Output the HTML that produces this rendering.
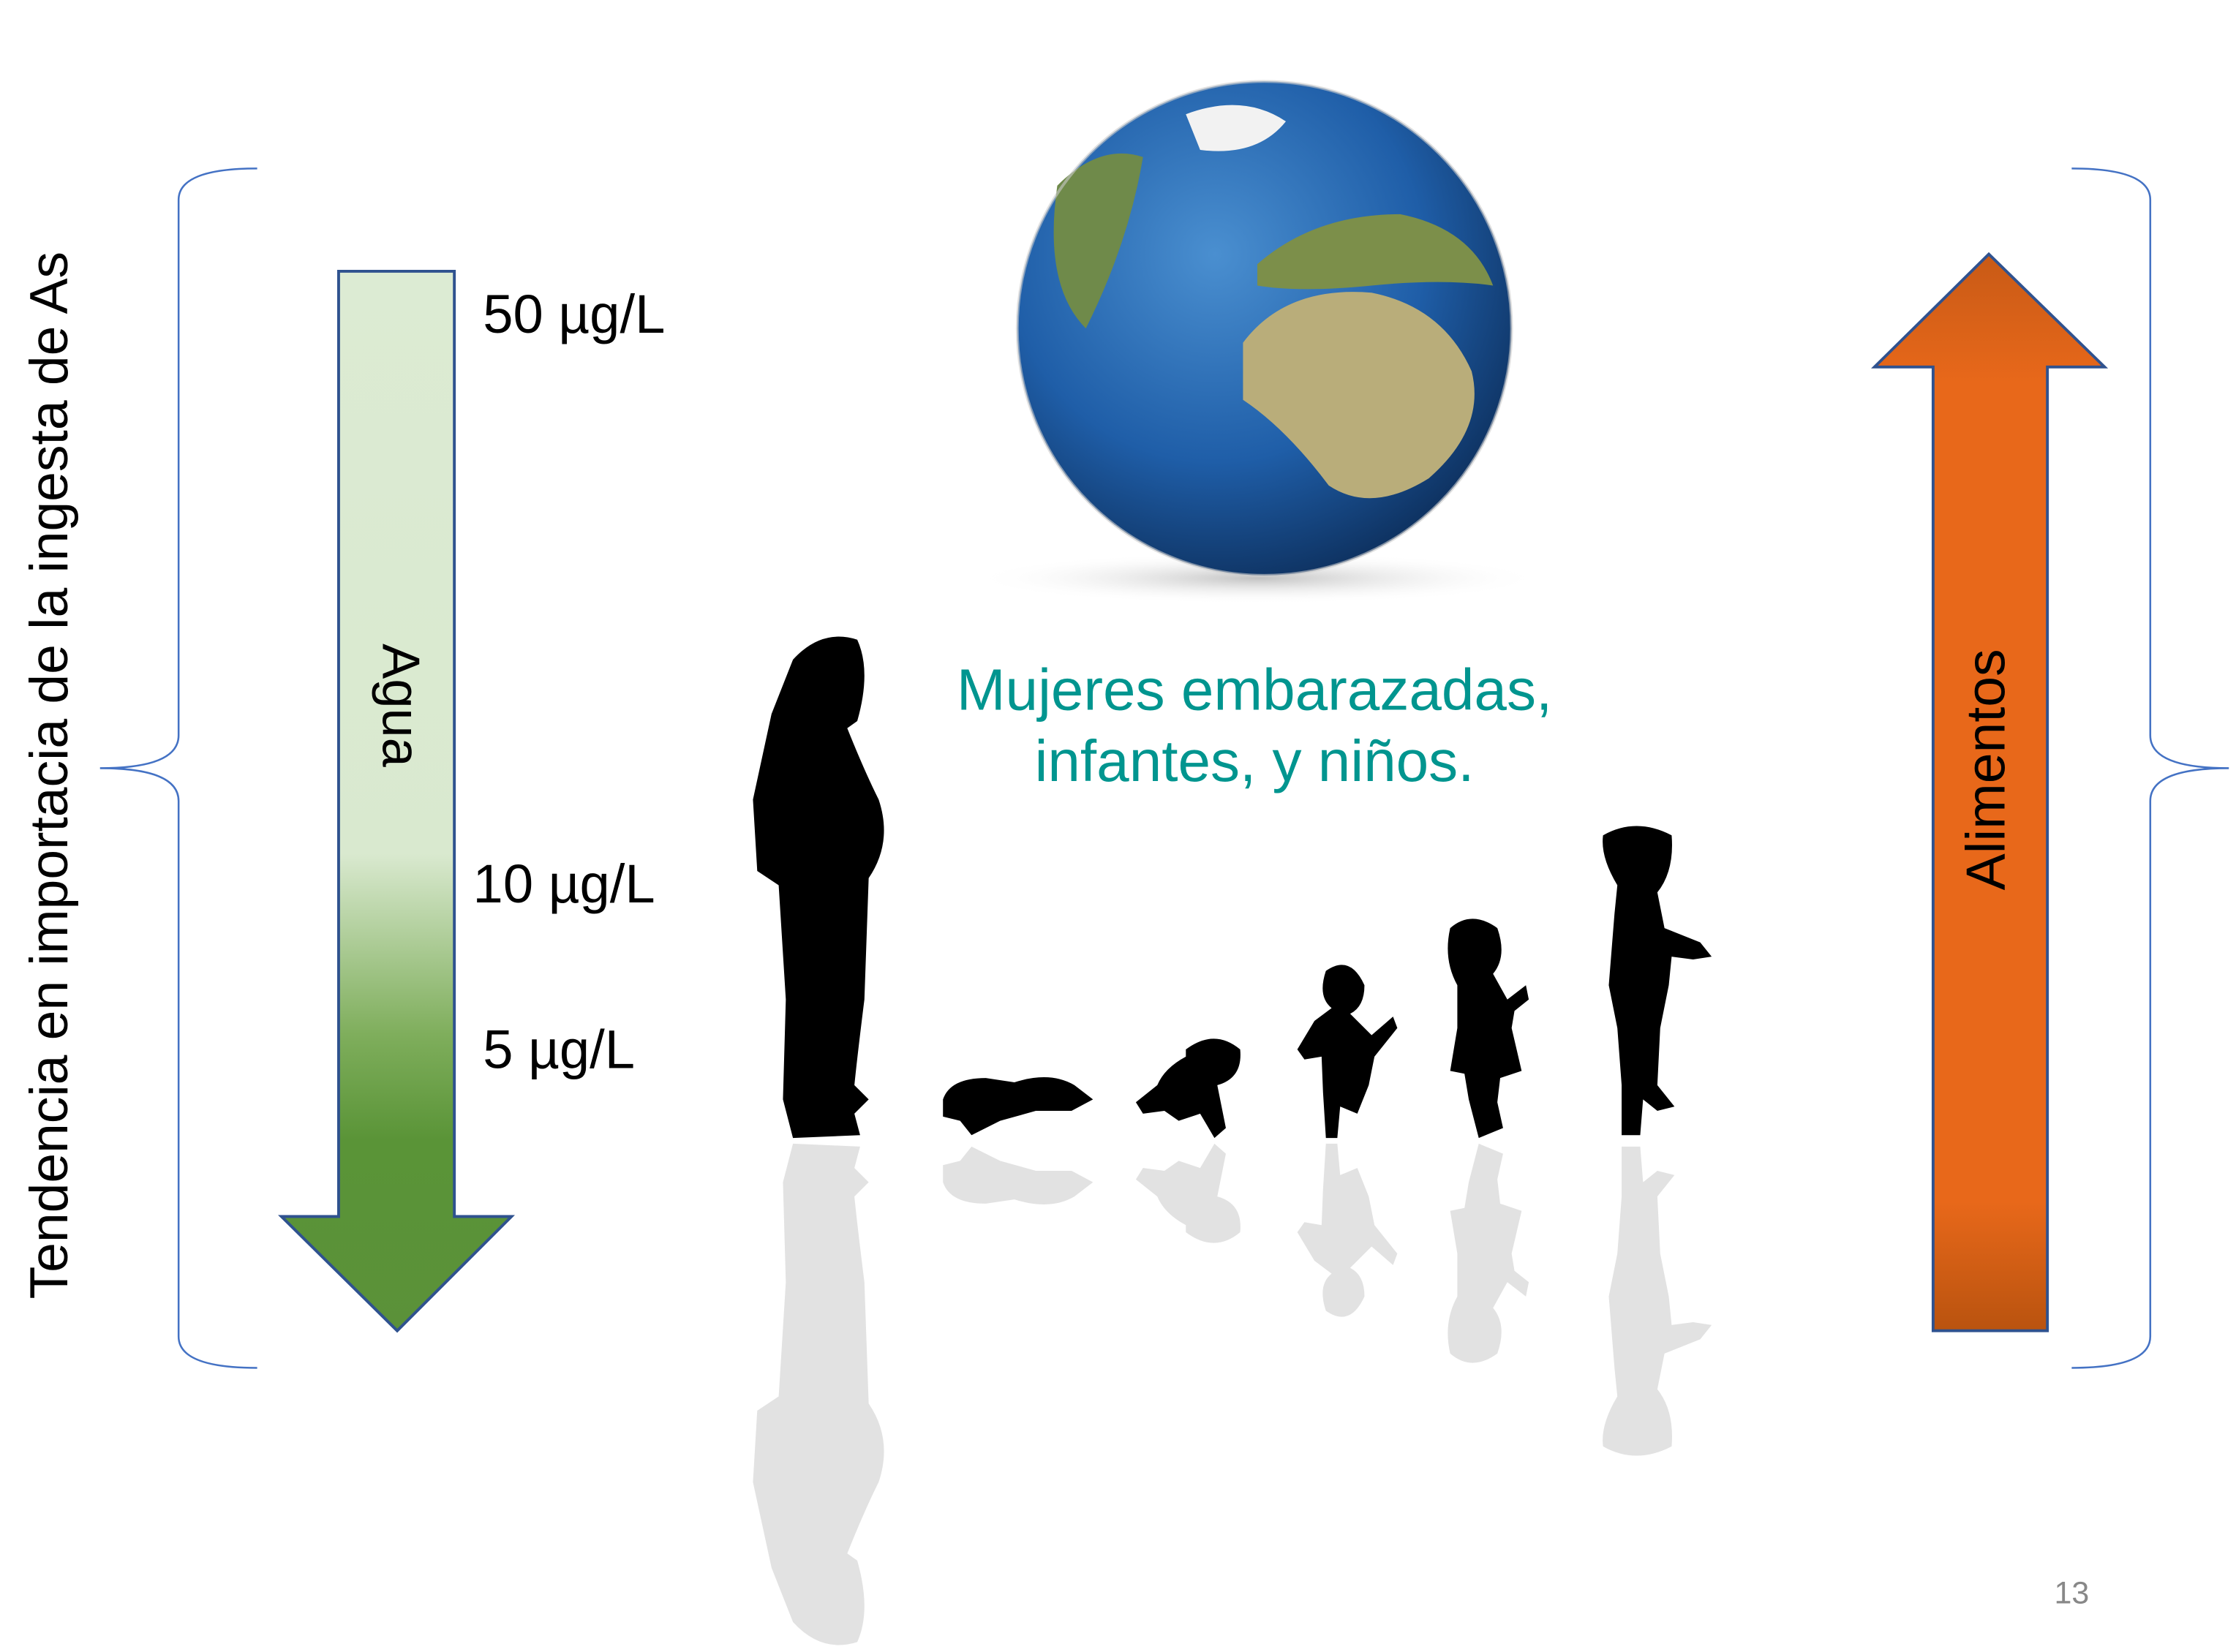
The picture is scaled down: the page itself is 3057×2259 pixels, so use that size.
<!DOCTYPE html>
<html><head><meta charset="utf-8"><style>
html,body{margin:0;padding:0;background:#fff;}
svg{display:block;}
text{font-family:"Liberation Sans",sans-serif;}
</style></head><body>
<svg width="3057" height="2259" viewBox="0 0 1565 1157" preserveAspectRatio="none" xmlns="http://www.w3.org/2000/svg">
<defs>
<linearGradient id="gG" x1="0" y1="0" x2="0" y2="1">
<stop offset="0" stop-color="#dcebd3"/><stop offset="0.55" stop-color="#d9e9cf"/><stop offset="0.72" stop-color="#7fae5c"/><stop offset="0.82" stop-color="#5a9437"/><stop offset="1" stop-color="#5b9139"/>
</linearGradient>
<linearGradient id="gO" x1="0" y1="0" x2="0" y2="1">
<stop offset="0" stop-color="#c85a16"/><stop offset="0.12" stop-color="#e8681a"/><stop offset="0.88" stop-color="#e8681a"/><stop offset="1" stop-color="#b9530f"/>
</linearGradient>
<radialGradient id="gGlobe" cx="0.4" cy="0.35" r="0.7">
<stop offset="0" stop-color="#4a8fd0"/><stop offset="0.6" stop-color="#1f5ea8"/><stop offset="1" stop-color="#0d2f5c"/>
</radialGradient>
<radialGradient id="gShadow" cx="0.5" cy="0.5" r="0.5">
<stop offset="0" stop-color="#999" stop-opacity="0.6"/><stop offset="1" stop-color="#fff" stop-opacity="0"/>
</radialGradient>
</defs>

<path d="M180,118 Q125,118 125,140 L125,515 Q125,538 70,538 Q125,538 125,561 L125,936 Q125,958 180,958" fill="none" stroke="#4472c4" stroke-width="1.3"/>
<text transform="translate(47,543) rotate(-90)" text-anchor="middle" font-size="37.5">Tendencia en importacia de la ingesta de As</text>

<path d="M237,190 L318,190 L318,852 L358,852 L278,932 L197,852 L237,852 Z" fill="url(#gG)" stroke="#2f528f" stroke-width="2"/>
<text transform="translate(268,494) rotate(90)" text-anchor="middle" font-size="37">Agua</text>
<text x="338" y="233" font-size="38">50 µg/L</text>
<text x="331" y="632" font-size="38">10 µg/L</text>
<text x="338" y="748" font-size="38">5 µg/L</text>

<g>
<ellipse cx="880" cy="405" rx="200" ry="18" fill="url(#gShadow)"/>
<circle cx="885" cy="230" r="173" fill="url(#gGlobe)"/>
<path d="M870,240 Q900,200 960,205 Q1010,215 1030,260 Q1040,300 1000,335 Q960,360 930,340 Q900,300 870,280 Z" fill="#b9ad7a"/>
<path d="M880,185 Q920,150 980,150 Q1030,160 1045,200 Q1010,195 960,200 Q910,205 880,200 Z" fill="#7c8f4a"/>
<path d="M740,130 Q770,100 800,110 Q790,170 760,230 Q730,200 740,130 Z" fill="#6f8a4a"/>
<path d="M830,80 Q870,65 900,85 Q880,110 840,105 Z" fill="#f2f2f2"/>
<circle cx="885" cy="230" r="173" fill="none" stroke="#ccc" stroke-width="2" opacity="0.6"/>
</g>

<text x="878" y="497" text-anchor="middle" font-size="41" fill="#00958f">Mujeres embarazadas,</text>
<text x="878" y="547" text-anchor="middle" font-size="41" fill="#00958f">infantes, y niños.</text>

<g fill="#000">
<path d="M555,462 Q575,440 600,448 Q610,470 600,505 L593,510 Q605,540 615,560 Q625,590 608,615 L605,700 Q600,740 598,760 L608,770 L598,780 L602,795 L555,797 L548,770 L550,700 L545,620 L530,610 L527,560 L540,500 Z"/>
<path d="M660,770 Q665,755 690,755 L710,758 Q735,750 752,760 L765,770 L750,778 L725,778 L700,785 L680,795 L672,785 L660,782 Z"/>
<path d="M830,735 Q850,720 868,735 Q870,755 852,760 L858,790 L850,797 L840,780 L825,785 L815,778 L800,780 L795,772 L810,760 Q815,748 830,740 Z"/>
<path d="M928,680 Q945,668 955,690 Q955,705 945,710 L960,725 L975,712 L978,720 L962,740 L958,760 L950,780 L938,775 L936,797 L928,797 L926,765 L925,740 L913,742 L908,735 L920,715 L932,706 Q922,698 928,680 Z"/>
<path d="M1015,650 Q1030,637 1048,650 Q1055,670 1045,682 L1055,700 L1068,690 L1070,700 L1060,708 L1058,720 L1065,750 L1050,755 L1048,772 L1052,790 L1035,797 L1028,770 L1025,752 L1015,750 L1020,720 L1020,690 Q1010,672 1015,650 Z"/>
<path d="M1122,585 Q1145,572 1170,585 Q1172,610 1160,625 L1165,650 L1190,660 L1198,670 L1185,672 L1170,670 L1168,690 L1162,720 L1160,760 L1172,775 L1160,778 L1150,770 L1148,795 L1135,795 L1135,760 L1132,720 L1126,690 L1130,640 L1132,620 Q1120,600 1122,585 Z"/>
</g>
<g transform="translate(0,1598) scale(1,-1)" fill="#e2e2e2">
<path d="M555,462 Q575,440 600,448 Q610,470 600,505 L593,510 Q605,540 615,560 Q625,590 608,615 L605,700 Q600,740 598,760 L608,770 L598,780 L602,795 L555,797 L548,770 L550,700 L545,620 L530,610 L527,560 L540,500 Z"/>
<path d="M660,770 Q665,755 690,755 L710,758 Q735,750 752,760 L765,770 L750,778 L725,778 L700,785 L680,795 L672,785 L660,782 Z"/>
<path d="M830,735 Q850,720 868,735 Q870,755 852,760 L858,790 L850,797 L840,780 L825,785 L815,778 L800,780 L795,772 L810,760 Q815,748 830,740 Z"/>
<path d="M928,680 Q945,668 955,690 Q955,705 945,710 L960,725 L975,712 L978,720 L962,740 L958,760 L950,780 L938,775 L936,797 L928,797 L926,765 L925,740 L913,742 L908,735 L920,715 L932,706 Q922,698 928,680 Z"/>
<path d="M1015,650 Q1030,637 1048,650 Q1055,670 1045,682 L1055,700 L1068,690 L1070,700 L1060,708 L1058,720 L1065,750 L1050,755 L1048,772 L1052,790 L1035,797 L1028,770 L1025,752 L1015,750 L1020,720 L1020,690 Q1010,672 1015,650 Z"/>
<path d="M1122,585 Q1145,572 1170,585 Q1172,610 1160,625 L1165,650 L1190,660 L1198,670 L1185,672 L1170,670 L1168,690 L1162,720 L1160,760 L1172,775 L1160,778 L1150,770 L1148,795 L1135,795 L1135,760 L1132,720 L1126,690 L1130,640 L1132,620 Q1120,600 1122,585 Z"/>
</g>

<path d="M1392,178 L1473,257 L1433,257 L1433,932 L1353,932 L1353,257 L1312,257 Z" fill="url(#gO)" stroke="#2f528f" stroke-width="2"/>
<text transform="translate(1403,539) rotate(-90)" text-anchor="middle" font-size="38.5">Alimentos</text>

<path d="M1450,118 Q1505,118 1505,140 L1505,515 Q1505,538 1560,538 Q1505,538 1505,561 L1505,936 Q1505,958 1450,958" fill="none" stroke="#4472c4" stroke-width="1.3"/>

<text x="1450" y="1123" text-anchor="middle" font-size="22" fill="#888">13</text>
</svg>
</body></html>
